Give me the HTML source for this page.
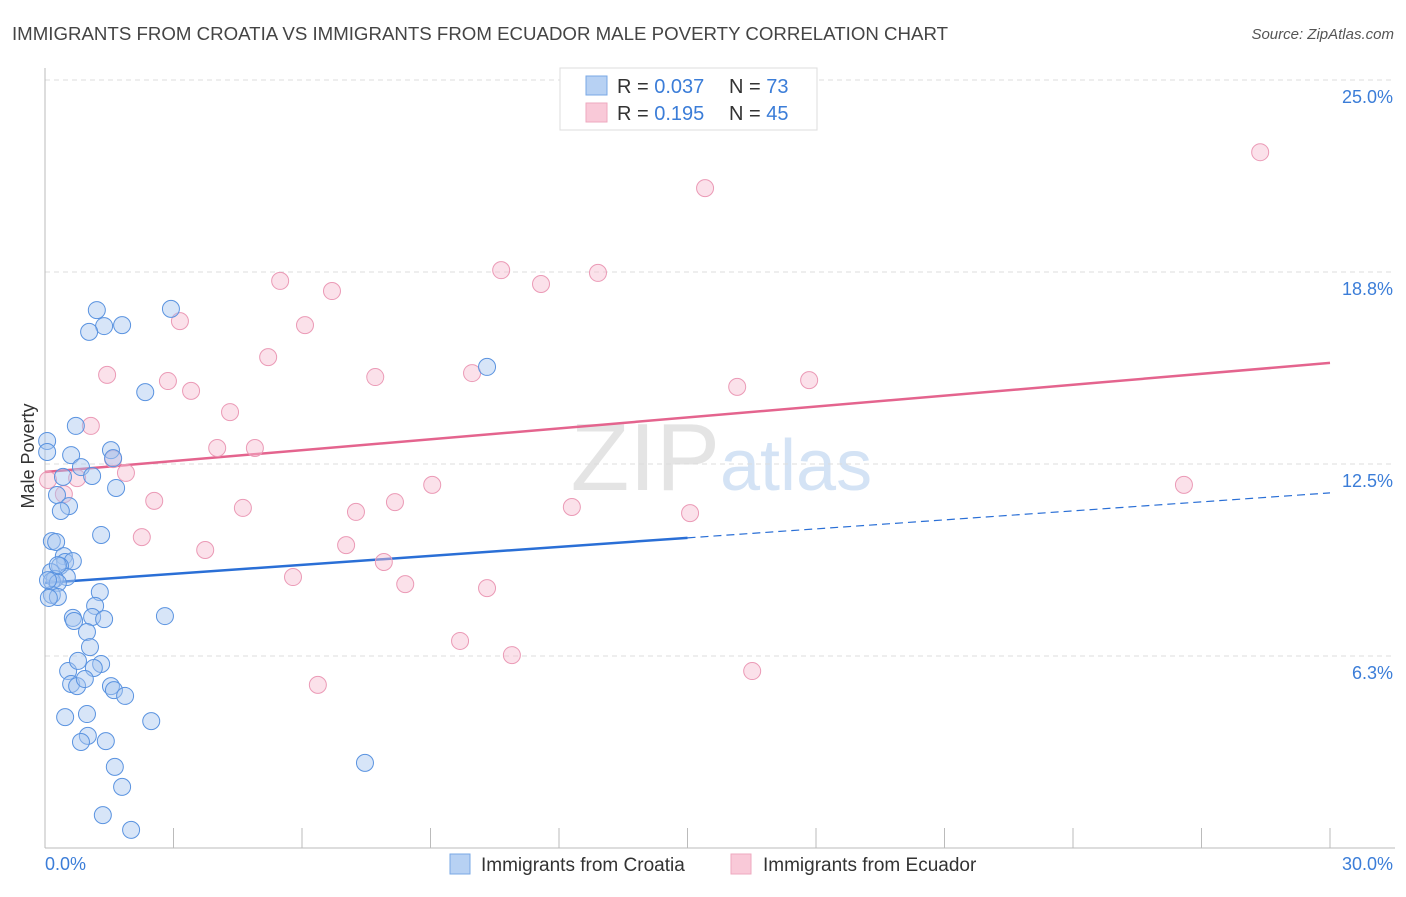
<!DOCTYPE html>
<html><head><meta charset="utf-8"><style>
body{margin:0;background:#fff;font-family:"Liberation Sans",sans-serif;}
svg text{font-family:"Liberation Sans",sans-serif;}
</style></head><body>
<svg id="chart" width="1406" height="892" xmlns="http://www.w3.org/2000/svg">
<text x="12" y="40" font-size="18" fill="#444" textLength="936" lengthAdjust="spacingAndGlyphs">IMMIGRANTS FROM CROATIA VS IMMIGRANTS FROM ECUADOR MALE POVERTY CORRELATION CHART</text>
<text x="1394" y="39" font-size="15" fill="#555" font-style="italic" text-anchor="end">Source: ZipAtlas.com</text>
<text x="720" y="490" font-size="96" fill="#e4e4e4" text-anchor="end" font-family="Liberation Serif">ZIP</text>
<text x="720" y="490" font-size="72" fill="#d4e3f5">atlas</text>
<g id="grid"></g><g id="axes"></g><g id="trend"></g><g id="pts"></g>
<g>
<rect x="560" y="68" width="257" height="62" fill="#fff" stroke="#ddd"/>
<rect x="586" y="76" width="21" height="19" fill="#b7d1f3" stroke="#7aa8e6"/>
<rect x="586" y="103" width="21" height="19" fill="#f9c9d8" stroke="#eea9bf"/>
<text x="617" y="93" font-size="20" fill="#333">R = <tspan fill="#3b7dd8">0.037</tspan></text>
<text x="729" y="93" font-size="20" fill="#333">N = <tspan fill="#3b7dd8">73</tspan></text>
<text x="617" y="120" font-size="20" fill="#333">R =  <tspan fill="#3b7dd8">0.195</tspan></text>
<text x="729" y="120" font-size="20" fill="#333">N = <tspan fill="#3b7dd8">45</tspan></text>
</g>
<g>
<rect x="450" y="854" width="20" height="20" fill="#b7d1f3" stroke="#7aa8e6"/>
<text x="481" y="871" font-size="19" fill="#333">Immigrants from Croatia</text>
<rect x="731" y="854" width="20" height="20" fill="#f9c9d8" stroke="#eea9bf"/>
<text x="763" y="871" font-size="19" fill="#333">Immigrants from Ecuador</text>
</g>
<text x="34" y="456" font-size="18" fill="#333" text-anchor="middle" transform="rotate(-90 34 456)">Male Poverty</text>
</svg>
<script>
const yTicks=[6.25,12.5,18.75,25];
const yTickLabels=["6.3%","12.5%","18.8%","25.0%"];
const xEndLabels=["0.0%","30.0%"];
const croatiaX=[1.21,2.94,1.38,1.03,1.80,2.34,10.32,0.72,0.05,0.05,1.54,0.61,1.59,0.84,0.42,1.10,1.66,0.28,0.56,0.37,1.31,0.16,0.26,0.44,0.47,0.65,0.35,0.14,0.51,0.23,0.16,0.30,0.16,0.30,1.28,1.17,0.65,0.68,1.10,1.38,2.80,0.98,1.05,0.54,0.77,1.31,1.14,0.61,0.75,0.93,1.54,1.61,1.87,0.47,0.98,2.48,1.00,0.84,1.42,1.63,7.47,1.80,1.35,2.01,0.09,0.07,0.30];
const croatiaY=[17.51,17.55,16.99,16.80,17.02,14.84,15.66,13.74,13.25,12.89,12.95,12.79,12.69,12.40,12.08,12.11,11.72,11.49,11.13,10.97,10.19,9.99,9.96,9.50,9.31,9.34,9.18,8.98,8.82,8.76,8.69,8.63,8.24,8.17,8.33,7.88,7.49,7.39,7.52,7.45,7.55,7.03,6.54,5.76,6.09,5.99,5.86,5.34,5.27,5.50,5.27,5.14,4.95,4.26,4.36,4.13,3.65,3.45,3.48,2.64,2.77,1.99,1.07,0.59,8.14,8.72,9.21];
const ecuadorX=[28.37,15.41,10.65,12.91,5.49,11.58,6.70,3.15,6.07,5.21,1.45,7.71,9.97,17.84,2.87,16.16,3.41,4.32,1.07,4.02,4.90,1.59,1.89,0.75,0.07,0.44,9.04,26.59,2.55,8.17,4.62,7.26,12.30,15.06,2.26,3.74,7.03,7.91,5.79,8.41,10.32,9.69,10.90,16.51,6.37];
const ecuadorY=[22.65,21.48,18.81,18.72,18.46,18.36,18.13,17.15,17.02,15.98,15.40,15.33,15.46,15.23,15.20,15.01,14.88,14.19,13.74,13.02,13.02,12.66,12.21,12.04,11.98,11.52,11.82,11.82,11.30,11.26,11.07,10.94,11.10,10.90,10.12,9.70,9.86,9.31,8.82,8.59,8.46,6.74,6.28,5.76,5.31];
const croatiaTrend=[8.63,11.56];
const ecuadorTrend=[12.24,15.79];
const NS="http://www.w3.org/2000/svg";
const X0=45,X1=1330,XMAX=30,Y0=848,YMAX=25,YTOP=80;
const sx=v=>X0+v/XMAX*(X1-X0);
const sy=v=>Y0-v/YMAX*(Y0-YTOP);
function mk(tag,attrs,parent){const e=document.createElementNS(NS,tag);for(const k in attrs)e.setAttribute(k,attrs[k]);document.getElementById(parent).appendChild(e);return e;}
yTicks.forEach((t,i)=>{
  const l=mk('line',{x1:X0,x2:1395,y1:sy(t),y2:sy(t),stroke:'#ddd','stroke-dasharray':'5,4'},'grid');
  
  
  const tx=mk('text',{x:1393,y:sy(t)+23,'font-size':18,fill:'#3b7dd8','text-anchor':'end'},'grid');
  tx.textContent=yTickLabels[i];
  
  
});
const ax=mk('line',{x1:X0,x2:X0,y1:68,y2:Y0,stroke:'#bbb'},'axes');


const bx=mk('line',{x1:X0,x2:1395,y1:Y0,y2:Y0,stroke:'#bbb'},'axes');


for(let i=1;i<=10;i++){
  const t=mk('line',{x1:sx(i*3),x2:sx(i*3),y1:828,y2:Y0,stroke:'#bbb'},'axes');
  
  
}
const xl0=mk('text',{x:45,y:870,'font-size':18,fill:'#3b7dd8'},'axes');xl0.textContent=xEndLabels[0];


const xl1=mk('text',{x:1393,y:870,'font-size':18,fill:'#3b7dd8','text-anchor':'end'},'axes');xl1.textContent=xEndLabels[1];


function dot(x,y,fill,stroke,name){
  const c=mk('circle',{cx:sx(x),cy:sy(y),r:8.5,fill:fill,'fill-opacity':0.45,stroke:stroke,'stroke-width':1},'pts');
  
  
}
ecuadorX.forEach((x,i)=>dot(x,ecuadorY[i],'#f7bcd0','#eb9ab6','ecuador-point'));
croatiaX.forEach((x,i)=>dot(x,croatiaY[i],'#a6c6f0','#5a93e0','croatia-point'));
const cAt=x=>croatiaTrend[0]+(croatiaTrend[1]-croatiaTrend[0])*x/XMAX;
const eAt=x=>ecuadorTrend[0]+(ecuadorTrend[1]-ecuadorTrend[0])*x/XMAX;
const t1=mk('line',{x1:sx(0),y1:sy(cAt(0)),x2:sx(15),y2:sy(cAt(15)),stroke:'#2a6fd6','stroke-width':2.5},'trend');


const t2=mk('line',{x1:sx(15),y1:sy(cAt(15)),x2:sx(30),y2:sy(cAt(30)),stroke:'#2a6fd6','stroke-width':1.2,'stroke-dasharray':'8,5'},'trend');


const t3=mk('line',{x1:sx(0),y1:sy(eAt(0)),x2:sx(30),y2:sy(eAt(30)),stroke:'#e4648e','stroke-width':2.5},'trend');


</script>
</body></html>
